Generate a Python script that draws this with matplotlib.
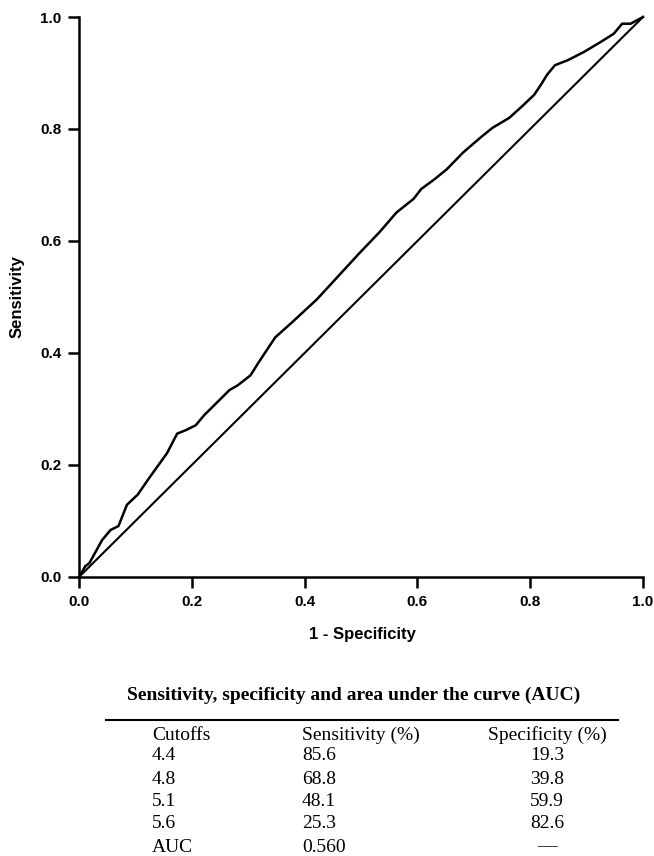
import matplotlib
matplotlib.use("Agg")
import matplotlib.pyplot as plt
from matplotlib.lines import Line2D

# ROC curve (1 - specificity, sensitivity)
fpr = [0.0, 0.011, 0.0185, 0.041, 0.056, 0.070, 0.085, 0.104, 0.126, 0.156,
       0.174, 0.189, 0.207, 0.222, 0.252, 0.267, 0.281, 0.304, 0.319, 0.348,
       0.378, 0.422, 0.496, 0.533, 0.563, 0.593, 0.607, 0.630, 0.652, 0.681,
       0.711, 0.733, 0.763, 0.785, 0.807, 0.819, 0.830, 0.844, 0.867, 0.896,
       0.926, 0.948, 0.963, 0.978, 0.989, 1.0]
tpr = [0.0, 0.019, 0.025, 0.066, 0.084, 0.091, 0.129, 0.147, 0.179, 0.221,
       0.256, 0.262, 0.271, 0.289, 0.319, 0.334, 0.342, 0.360, 0.384, 0.428,
       0.455, 0.496, 0.577, 0.616, 0.651, 0.675, 0.693, 0.710, 0.728, 0.758,
       0.784, 0.802, 0.820, 0.840, 0.861, 0.879, 0.897, 0.914, 0.923, 0.938,
       0.956, 0.970, 0.988, 0.988, 0.994, 1.0]
ref_line = [0.0, 1.0]

ticks = [0.0, 0.2, 0.4, 0.6, 0.8, 1.0]
tick_labels = ["0.0", "0.2", "0.4", "0.6", "0.8", "1.0"]

# Table below the chart
table_title = "Sensitivity, specificity and area under the curve (AUC)"
col_headers = ["Cutoffs", "Sensitivity (%)", "Specificity (%)"]
cutoffs = ["4.4", "4.8", "5.1", "5.6", "AUC"]
sensitivity = ["85.6", "68.8", "48.1", "25.3", "0.560"]
specificity = ["19.3", "39.8", "59.9", "82.6", "\u2014"]

W, H = 654, 856
fig = plt.figure(figsize=(W / 100, H / 100), dpi=100)
ax = fig.add_axes([79 / W, 1 - 577 / H, (643 - 79) / W, (577 - 17) / H])

ax.plot(fpr, tpr, color="black", lw=1.8, clip_on=False, solid_joinstyle="round")
ax.plot(ref_line, ref_line, color="black", lw=1.5, clip_on=False)

ax.set_xlim(0, 1)
ax.set_ylim(0, 1)
for s in ["top", "right"]:
    ax.spines[s].set_visible(False)
for s in ["left", "bottom"]:
    ax.spines[s].set_linewidth(1.8)

ax.set_xticks(ticks)
ax.set_xticklabels(tick_labels)
ax.set_yticks(ticks)
ax.set_yticklabels(tick_labels)
ax.tick_params(direction="out", length=8, width=1.8, labelsize=11)
ax.tick_params(axis="x", pad=5)
ax.tick_params(axis="y", pad=4.5)
for lab in ax.get_xticklabels() + ax.get_yticklabels():
    lab.set_fontweight("bold")
    lab.set_family("Liberation Sans")

ax.set_xlabel("1 - Specificity", fontsize=12, fontweight="bold",
              family="Liberation Sans", va="center")
ax.xaxis.set_label_coords(0.502, (577 - 635) / 560)
ax.set_ylabel("Sensitivity", fontsize=12, fontweight="bold",
              family="Liberation Sans", va="center")
ax.yaxis.set_label_coords((17.5 - 79) / 564, 0.5)

# Table
fig.text(354 / W, 1 - 695 / H, table_title, ha="center", va="center",
         fontsize=14, fontweight="bold", family="Liberation Serif")
fig.add_artist(Line2D([106 / W, 618 / W], [1 - 720 / H, 1 - 720 / H],
                      color="black", lw=1.5, transform=fig.transFigure))

serif = dict(fontsize=14, family="Liberation Serif", va="center")
hy = 1 - 735 / H
fig.text(152 / W, hy, col_headers[0], ha="left", **serif)
fig.text(302 / W, hy, col_headers[1], ha="left", **serif)
fig.text(547 / W, hy, col_headers[2], ha="center", **serif)
row_y = [756, 779, 802, 824, 847]
for yy, c, se, sp in zip(row_y, cutoffs, sensitivity, specificity):
    fy = 1 - yy / H
    fig.text(152 / W, fy, c, ha="left", **serif)
    fig.text(302 / W, fy, se, ha="left", **serif)
    fig.text(547 / W, fy, sp, ha="center", **serif)

fig.savefig("out.png", dpi=100)
